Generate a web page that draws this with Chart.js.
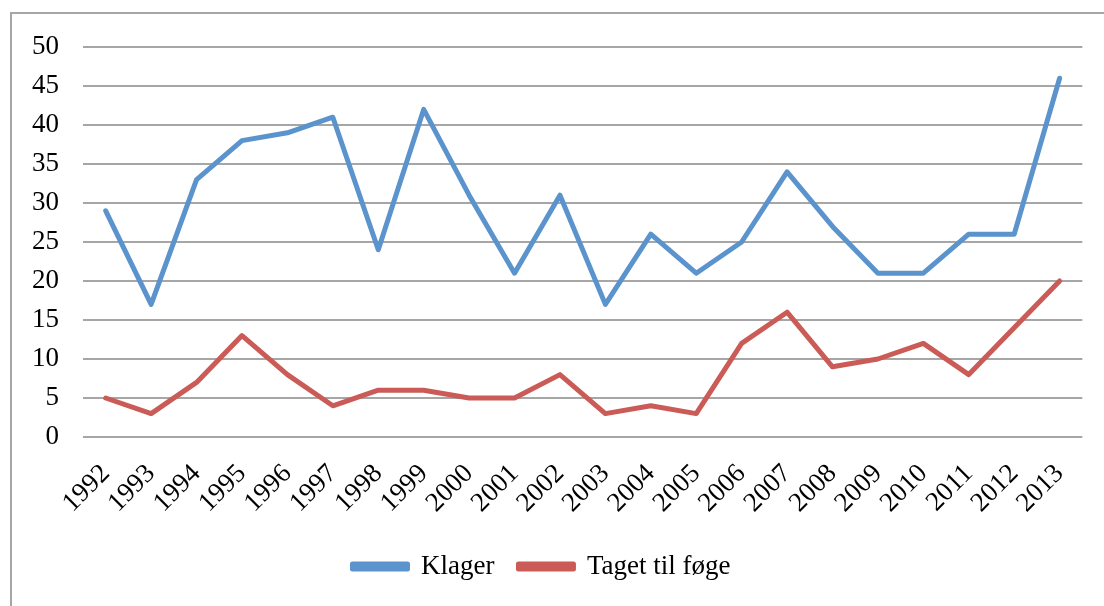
<!DOCTYPE html>
<html><head><meta charset="utf-8">
<script src="https://cdn.jsdelivr.net/npm/chart.js@4/dist/chart.umd.min.js"></script>
<style>
html,body{margin:0;padding:0;background:#fff;width:1104px;height:606px;overflow:hidden;}
#frame{position:absolute;left:10px;top:12px;width:1200px;height:700px;border:2px solid #a6a6a6;box-sizing:border-box;}
#wrap{position:absolute;left:0;top:0;width:1104px;height:606px;}
</style></head>
<body>
<div id="frame"></div>
<div id="wrap"><canvas id="c" width="1104" height="606"></canvas></div>
<script>
const years = ['1992','1993','1994','1995','1996','1997','1998','1999','2000','2001','2002','2003','2004','2005','2006','2007','2008','2009','2010','2011','2012','2013'];
const klager = [29,17,33,38,39,41,24,42,31,21,31,17,26,21,25,34,27,21,21,26,26,46];
const tagetTilFoege = [5,3,7,13,8,4,6,6,5,5,8,3,4,3,12,16,9,10,12,8,14,20];
const seriesNames = ['Klager','Taget til føge'];
const yTicks = [0,5,10,15,20,25,30,35,40,45,50];

const FONT = "'Liberation Serif', 'DejaVu Serif', serif";
new Chart(document.getElementById('c'), {
  type: 'line',
  data: {
    labels: years,
    datasets: [
      {label: seriesNames[0], data: klager, borderColor: '#5B93CC', backgroundColor: '#5B93CC', borderWidth: 5, pointRadius: 0, tension: 0, borderJoinStyle: 'round', borderCapStyle: 'round'},
      {label: seriesNames[1], data: tagetTilFoege, borderColor: '#CA5B56', backgroundColor: '#CA5B56', borderWidth: 5, pointRadius: 0, tension: 0, borderJoinStyle: 'round', borderCapStyle: 'round'}
    ]
  },
  options: {
    responsive: false,
    animation: false,
    layout: {padding: {left: 0, right: 21, top: 47, bottom: 16}},
    plugins: {
      legend: {
        position: 'bottom',
        labels: {font: {family: FONT, size: 27}, color: '#000', boxWidth: 55, boxHeight: 5, padding: 24},
      },
      tooltip: {enabled: false}
    },
    scales: {
      x: {
        offset: true,
        grid: {display: false, drawTicks: false},
        border: {display: false},
        ticks: {font: {family: FONT, size: 27}, color: '#000', minRotation: 45, maxRotation: 45, autoSkip: false, padding: 21},
        afterFit: s => { s.height = 92; }
      },
      y: {
        min: 0, max: 50,
        afterBuildTicks: s => { s.ticks = yTicks.map(v => ({value: v})); },
        grid: {color: '#a6a6a6', lineWidth: 2, drawTicks: false},
        border: {display: false},
        ticks: {font: {family: FONT, size: 27}, color: '#000', padding: 24},
        afterFit: s => { s.width = 83; }
      }
    }
  }
});
</script>
</body></html>
